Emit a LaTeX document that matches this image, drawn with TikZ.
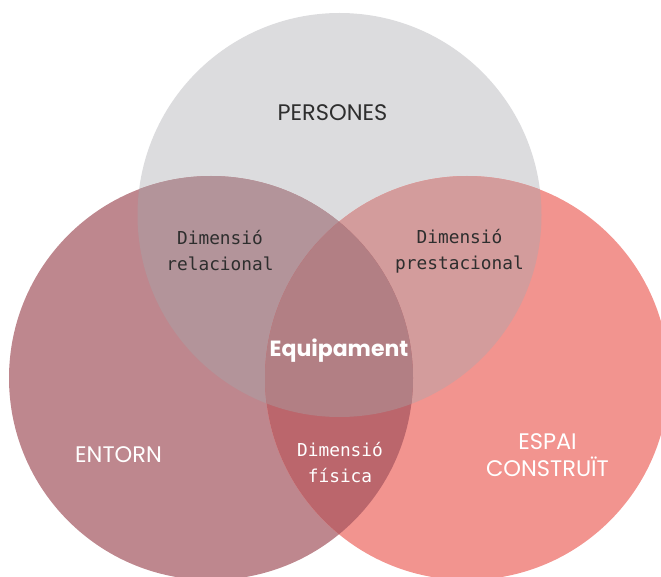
\documentclass[tikz,border=0pt]{standalone}
\usepackage{fontspec}
\setmainfont{Poppins}
\newfontfamily\monof{DejaVu Sans Mono}
\definecolor{cgray}{HTML}{DCDCDE}
\definecolor{cleft}{HTML}{BE878E}
\definecolor{cright}{HTML}{F2948F}
\definecolor{cgl}{HTML}{B3949A}
\definecolor{cgr}{HTML}{D39C9C}
\definecolor{clr}{HTML}{BB666C}
\definecolor{call}{HTML}{B27F84}
\definecolor{ctext}{HTML}{2E2E2E}
\tikzset{
  bigdark/.style={text=ctext, font=\fontsize{22.5}{27}\selectfont, align=center, inner sep=0pt},
  bigwhite/.style={text=white, font=\fontsize{22.5}{27}\selectfont, align=center, inner sep=0pt},
  dimdark/.style={text=ctext, font=\monof\fontsize{17.8}{26}\selectfont, align=center, inner sep=0pt},
  dimwhite/.style={text=white, font=\monof\fontsize{17.8}{26}\selectfont, align=center, inner sep=0pt},
  core/.style={text=white, font=\bfseries\fontsize{22}{27}\selectfont, inner sep=0pt}
}
\begin{document}
\begin{tikzpicture}[x=1pt,y=-1pt]
\useasboundingbox (0,0) rectangle (661,577);
\clip (0,0) rectangle (661,577);
\coordinate (P) at (339.5,215);
\coordinate (E) at (211,378);
\coordinate (C) at (467,378);
\fill[cgray] (P) circle[radius=202];
\fill[cleft] (E) circle[radius=202];
\fill[cright] (C) circle[radius=202];
\begin{scope}
  \clip (P) circle[radius=202];
  \fill[cgl] (E) circle[radius=202];
  \fill[cgr] (C) circle[radius=202];
\end{scope}
\begin{scope}
  \clip (E) circle[radius=202];
  \fill[clr] (C) circle[radius=202];
  \clip (C) circle[radius=202];
  \fill[call] (P) circle[radius=202];
\end{scope}
\node[bigdark] (persones) at (332.5,112.5) {PERSONES};
\node[bigwhite] (entorn) at (118.5,454.5) {ENTORN};
\node[bigwhite] (espai) at (547.5,455.5) {ESPAI\\CONSTRUÏT};
\node[dimdark] (rel) at (220,251) {Dimensió\\relacional};
\node[dimdark] (pre) at (459.5,251) {Dimensió\\prestacional};
\node[dimwhite] (fis) at (340,463) {Dimensió\\física};
\node[core] (equip) at (339,351) {Equipament};
\end{tikzpicture}
\end{document}
